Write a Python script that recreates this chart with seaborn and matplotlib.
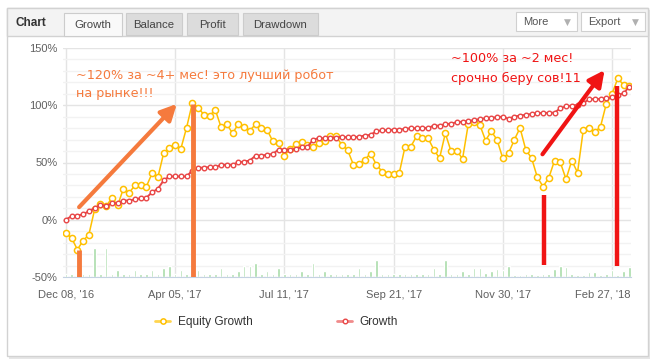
import numpy as np
import pandas as pd
import matplotlib
matplotlib.use('Agg')
import matplotlib.pyplot as plt
import seaborn as sns
from matplotlib.patches import Rectangle
from matplotlib.lines import Line2D
from matplotlib.transforms import ScaledTranslation

# values (% growth), one point per trading period
equity = [-11.7, -16, -26, -18.3, -13, 9, 14, 11.6, 19.2, 12.5,
          27, 23.5, 30, 30, 29, 40.6, 37, 58, 62.8, 65.7,
          62, 80.5, 102, 98, 91.8, 91, 95.9, 80.8, 83.4, 75.5,
          83.7, 80.8, 77.9, 83.4, 80.5, 78.5, 68.5, 66.8, 55.8, 61.9,
          66.3, 67.7, 65.4, 63.9, 67.1, 68.9, 73.5, 72.9, 65.4, 61,
          48.2, 48.8, 52.6, 57.8, 48.2, 42.1, 39.8, 40.1, 41, 63.9,
          63.9, 72.9, 71.2, 71.2, 61.3, 53.7, 75.5, 59.8, 60.4, 53.2,
          83.7, 85.1, 83, 69.2, 77.3, 69.8, 53.7, 58.1, 69.8, 80.2,
          61, 54, 37.2, 29, 36.6, 51.7, 50.2, 35.4, 51.7, 41.2,
          78.5, 79.9, 76.4, 81.4, 101.2, 110, 123.4, 117.9, 116.4]
growth = [0, 3.2, 3.7, 4.6, 7.5, 10.1, 13, 11.9, 14.5, 14.5,
          16.8, 16.8, 17.7, 18.8, 19.2, 24, 27, 34.3, 37.8, 37.8,
          37.8, 37.8, 43, 45.3, 45.6, 45.9, 45.9, 48, 48, 48,
          50.2, 50.8, 51.7, 56, 56, 56.7, 57.5, 61.3, 61.3, 61.3,
          61.9, 63.3, 63.3, 70, 71.2, 71.2, 71.8, 71.8, 72.4, 72,
          72, 72.6, 73.5, 74.1, 77.3, 78.1, 78.1, 78.7, 78.7, 79.3,
          79.9, 79.9, 80.2, 80.2, 82.2, 82.2, 83.4, 84, 85.1, 85.7,
          86.3, 86.9, 88, 88.6, 89, 89.5, 90.1, 88.1, 90.1, 91,
          91.6, 92.4, 93, 93.3, 93.3, 93.6, 97.3, 99.1, 99.7, 100.3,
          102, 105.2, 105.5, 105.5, 106, 106.9, 109, 110.4, 116.2]
# small green bars at the bottom (height above the -50% floor)
bars = [3, 3, 3, 3, 3, 25.6, 3, 25.6, 3, 5.8,
        3, 3, 5.8, 3, 3, 5.8, 3, 8, 9.6, 3,
        5.8, 3, 8, 5.8, 3, 2.5, 3, 8, 3, 2.5,
        5.5, 9.6, 9.6, 12.5, 3, 5.5, 3, 8, 3, 2.5,
        3, 5.5, 3, 12.5, 3, 5.5, 3, 3, 3, 3,
        3, 8, 2.5, 5.5, 14.8, 2.5, 3, 2.5, 3, 2.5,
        3, 3, 2.5, 3, 8, 3, 14.8, 3, 2.5, 5.5,
        3, 8, 8, 3.5, 5.2, 7.3, 5.8, 9.3, 1.5, 1.5,
        2.5, 3, 1.5, 3, 3, 7.3, 9.3, 8.7, 3, 1.5,
        2, 4, 4, 1.5, 3, 6.5, 1.5, 5, 9]

tick_pos = [0, 19, 38, 57, 76, 95]
tick_labels = ["Dec 08, '16", "Apr 05, '17", "Jul 11, '17",
               "Sep 21, '17", "Nov 30, '17", "Feb 27, '18"]
tabs = ['Growth', 'Balance', 'Profit', 'Drawdown']
tab_x = [(64, 122), (126, 182), (187, 238), (243, 318)]

YELLOW = '#ffc000'
RED = '#e84545'
ORANGE = '#f57a3d'
HOT_RED = '#f01414'

W, H = 656, 364
sns.set_style('white')
plt.rcParams['font.family'] = ['Liberation Sans', 'DejaVu Sans']

fig = plt.figure(figsize=(W / 100, H / 100), dpi=100)


def rect(x0, y0, x1, y1, z, **kw):
    # rectangle given in pixel coords (y from the top)
    r = Rectangle((x0 / W, 1 - y1 / H), (x1 - x0) / W, (y1 - y0) / H,
                  transform=fig.transFigure, zorder=z, **kw)
    fig.patches.append(r)


def ftext(x, y, s, **kw):
    fig.text(x / W, 1 - y / H, s, **kw)


# widget frame with a soft shadow
rect(9, 10, 650, 359, -5, facecolor='#e6e6e6', edgecolor='none')
rect(7, 8, 648, 356, -4, facecolor='white', edgecolor='#d2d2d2', lw=1)
# header strip
rect(7, 8, 648, 36, -3, facecolor='#f3f3f3', edgecolor='#d2d2d2', lw=1)
ftext(15, 23, 'Chart', fontsize=8.5, fontweight='bold', color='#333333', va='center')
for name, (x0, x1) in zip(tabs, tab_x):
    active = name == 'Growth'
    rect(x0, 13, x1, 36 if active else 35, -2,
         facecolor='#f9f9f9' if active else '#dcdcdc',
         edgecolor='#cccccc', lw=0.8)
    ftext((x0 + x1) / 2, 25, name, fontsize=8.2, color='#444444',
          ha='center', va='center')
for name, (x0, x1) in zip(['More', 'Export'], [(516, 577), (581, 645)]):
    rect(x0, 12, x1, 31, -2, facecolor='white', edgecolor='#d0d0d0', lw=0.8)
    ftext(x0 + 7, 22, name, fontsize=8, color='#555555', va='center')
    ftext(x1 - 13, 22, '\u25bc', fontsize=6.5, color='#b0b0b0', va='center',
          family='DejaVu Sans')

# plot area
ax = fig.add_axes([63 / W, 1 - 277 / H, 568 / W, 229 / H])
ax.set_zorder(1)
ax.set_facecolor('none')
idx = np.arange(len(growth))
df = pd.DataFrame({'idx': idx, 'Equity Growth': equity, 'Growth': growth})

ax.bar(idx, bars, bottom=-50, width=0.45, color='#a9dca9', zorder=2)
sns.lineplot(data=df, x='idx', y='Equity Growth', color=YELLOW, lw=1.1,
             marker='o', markersize=4.4, markerfacecolor='white',
             markeredgecolor=YELLOW, markeredgewidth=1.1, ax=ax, zorder=3)
sns.lineplot(data=df, x='idx', y='Growth', color=RED, lw=1.4,
             marker='o', markersize=3.3, markerfacecolor='white',
             markeredgecolor=RED, markeredgewidth=1.0, ax=ax, zorder=4)

ax.set_xlim(-0.5, 98.3)
ax.set_ylim(-50, 150)
ax.set_yticks([-50, 0, 50, 100, 150])
ax.set_yticklabels([f'{v}%' for v in [-50, 0, 50, 100, 150]])
ax.set_yticks(np.arange(-50, 151, 10), minor=True)
ax.set_xticks(tick_pos)
ax.set_xticklabels(tick_labels)
ax.set_xlabel('')
ax.set_ylabel('')
ax.set_axisbelow(True)
ax.grid(which='major', color='#e4e4e4', lw=1)
ax.grid(which='minor', axis='y', color='#f2f2f2', lw=1)
ax.tick_params(axis='both', which='both', length=0, labelsize=8, colors='#606060')
ax.tick_params(axis='x', pad=9)
ax.tick_params(axis='y', pad=4)
for s in ['top', 'right', 'left']:
    ax.spines[s].set_visible(False)
ax.spines['bottom'].set_color('#c4d2e2')
# last date label is pushed inside the chart like in the original
last = ax.get_xticklabels()[-1]
last.set_transform(last.get_transform() + ScaledTranslation(-9 / 100, 0, fig.dpi_scale_trans))

# hand-drawn style remarks
ax.annotate('', xy=(19.3, 101.2), xytext=(2.3, 11),
            arrowprops=dict(arrowstyle='-|>,head_width=0.4,head_length=0.8',
                            lw=3, color=ORANGE, shrinkA=0, shrinkB=0,
                            mutation_scale=12), zorder=6)
ax.plot([22.1, 22.1], [101, -50], color=ORANGE, lw=3.5, solid_capstyle='butt', zorder=6)
ax.plot([2.3, 2.3], [-26.8, -50], color=ORANGE, lw=3.5, solid_capstyle='butt', zorder=6)
ax.text(1.7, 125.8, '~120% за ~4+ мес! это лучший робот', color=ORANGE,
        fontsize=9.2, family='DejaVu Sans', va='center', zorder=6)
ax.text(1.7, 110, 'на рынке!!!', color=ORANGE,
        fontsize=9.2, family='DejaVu Sans', va='center', zorder=6)

ax.annotate('', xy=(93.7, 130.7), xytext=(82.9, 57.2),
            arrowprops=dict(arrowstyle='-|>,head_width=0.4,head_length=0.8',
                            lw=3, color=HOT_RED, shrinkA=0, shrinkB=0,
                            mutation_scale=12), zorder=6)
ax.plot([83.1, 83.1], [21.6, -39.5], color=HOT_RED, lw=3.2, solid_capstyle='butt', zorder=6)
ax.plot([95.9, 95.9], [117, -40.6], color=HOT_RED, lw=3.2, solid_capstyle='butt', zorder=6)
ax.text(67.0, 140.7, '~100% за ~2 мес!', color=HOT_RED,
        fontsize=9.2, family='DejaVu Sans', va='center', zorder=6)
ax.text(67.0, 123.7, 'срочно беру сов!11', color=HOT_RED,
        fontsize=9.2, family='DejaVu Sans', va='center', zorder=6)

# legend under the chart
handles = [Line2D([], [], color='#ffd54f', lw=2, marker='o', markersize=3.8,
                  markerfacecolor='white', markeredgecolor=YELLOW, markeredgewidth=1.1),
           Line2D([], [], color='#f08a8a', lw=2, marker='o', markersize=3.3,
                  markerfacecolor='white', markeredgecolor=RED, markeredgewidth=1.0)]
fig.legend(handles, ['Equity Growth', 'Growth'], loc='center',
           bbox_to_anchor=(276.5 / W, 1 - 322 / H), ncol=2, frameon=False,
           fontsize=8.6, handlelength=1.25, handletextpad=0.6,
           columnspacing=7.1, borderpad=0, borderaxespad=0, labelcolor='#333333')

fig.savefig('out.png', dpi=100)
